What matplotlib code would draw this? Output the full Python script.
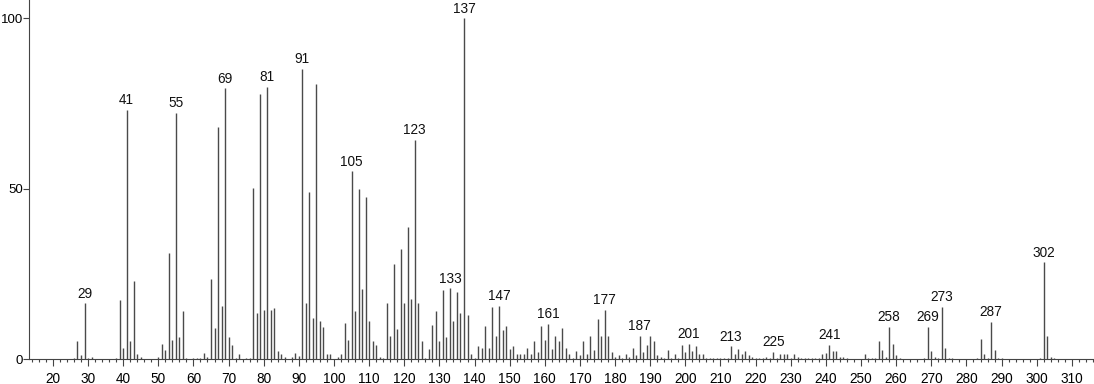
import matplotlib
matplotlib.use("Agg")
import matplotlib.pyplot as plt
import numpy as np
from matplotlib.ticker import MultipleLocator

plt.rcParams['font.family'] = ['Liberation Sans', 'DejaVu Sans']

# m/z 20..309, relative abundance (one row = 10 masses)
mz = np.arange(20, 310)
abund = [
    0, 0, 0, 0, 0, 0, 0.4, 5.4, 1.2, 16.4,            # 20
    0.3, 0.7, 0, 0, 0, 0, 0, 0, 0.5, 17.4,            # 30
    3.2, 73.1, 5.4, 23.0, 1.5, 0.7, 0, 0, 0, 0,       # 40
    0.6, 4.5, 2.7, 31.1, 5.6, 72.3, 6.6, 14.3, 0.3, 0,  # 50
    0.4, 0.5, 0.5, 1.8, 0.6, 23.5, 9.2, 68.1, 15.6, 79.5,  # 60
    6.4, 4.3, 0.5, 1.5, 0, 0.3, 0.5, 50.2, 13.5, 77.7,  # 70
    14.5, 80.0, 14.5, 15.0, 2.4, 1.5, 0.6, 0, 0.8, 1.8,  # 80
    1.0, 85.3, 16.6, 49.0, 12.0, 80.8, 11.2, 9.4, 1.5, 1.7,  # 90
    0.2, 0.6, 1.5, 10.7, 5.6, 55.1, 14.1, 50.0, 20.7, 47.5,  # 100
    11.2, 5.4, 4.2, 0.8, 0.3, 16.6, 6.8, 28.1, 9.0, 32.3,  # 110
    16.6, 38.7, 17.7, 64.3, 16.6, 5.3, 0.5, 3.0, 10.0, 14.1,  # 120
    5.4, 20.3, 6.6, 20.8, 11.1, 19.7, 13.5, 100, 13.0, 1.5,  # 130
    0.3, 4.0, 3.3, 9.8, 3.2, 15.3, 6.8, 15.6, 8.6, 9.7,  # 140
    2.9, 4.0, 1.5, 1.7, 1.5, 3.2, 1.5, 5.3, 2.2, 9.7,  # 150
    5.6, 10.4, 3.1, 6.8, 5.5, 9.1, 3.4, 1.5, 0.5, 2.5,  # 160
    1.3, 5.3, 1.5, 6.8, 2.7, 11.9, 6.8, 14.4, 6.8, 2.1,  # 170
    0.7, 1.3, 0.4, 1.6, 0.6, 3.4, 1.3, 6.8, 2.1, 4.1,  # 180
    6.8, 5.3, 1.3, 0.7, 0.4, 2.7, 0.3, 1.6, 0.3, 4.2,  # 190
    2.1, 4.5, 2.5, 3.9, 1.6, 1.6, 0.3, 0.3, 0.3, 0.3,  # 200
    0.3, 0.3, 0.3, 3.8, 1.6, 3.1, 1.6, 2.5, 1.3, 0.7,  # 210
    0.3, 0.3, 0.3, 0.7, 0.3, 2.1, 0.3, 1.7, 1.7, 1.7,  # 220
    0.5, 1.7, 0.7, 0.5, 0.3, 0.3, 0.3, 0.3, 0.5, 1.5,  # 230
    1.8, 4.2, 2.5, 2.5, 0.8, 0.8, 0.3, 0, 0, 0,       # 240
    0, 1.5, 0.5, 0.5, 0.3, 5.3, 2.7, 0.8, 9.4, 4.5,   # 250
    1.3, 0.3, 0, 0, 0, 0, 0, 0, 0.3, 9.5,             # 260
    2.3, 0.8, 0.5, 15.4, 3.2, 0.5, 0.3, 0, 0, 0,      # 270
    0, 0, 0, 0.3, 5.9, 1.5, 0.5, 11.0, 2.7, 0.5,      # 280
    0.3, 0, 0, 0, 0, 0, 0, 0, 0, 0,                   # 290
    0, 0.3, 28.4, 6.8, 0.8, 0.5, 0, 0, 0, 0,          # 300
]
abund = np.array(abund)

labelled = [29, 41, 55, 69, 81, 91, 105, 123, 133, 137, 147, 161, 177,
            187, 201, 213, 225, 241, 258, 269, 273, 287, 302]

fig = plt.figure(figsize=(10.94, 3.84), dpi=100)
ax = fig.add_axes([29 / 1094, 24.7 / 384, 1 - 29 / 1094, 1 - 24.7 / 384])

keep = abund > 0
ax.vlines(mz[keep], 0, abund[keep], color='#4a4a4a', lw=1.0)

for m in labelled:
    h = abund[mz == m][0]
    ax.annotate(str(m), (m, h), xytext=(0, 2), textcoords='offset points',
                ha='center', va='bottom', fontsize=9.8, color='#111111')

ax.set_xlim(13.2, 316.3)
ax.set_ylim(0, 105.4)
ax.xaxis.set_minor_locator(MultipleLocator(2))
ax.set_xticks(np.arange(20, 311, 10))
ax.set_yticks([0, 50, 100])
ax.tick_params(axis='x', which='major', direction='out', length=5, width=0.8,
               color='#444444', labelsize=9.8, pad=4)
ax.tick_params(axis='x', which='minor', direction='out', length=2.5, width=0.8,
               color='#444444')
ax.tick_params(axis='y', direction='out', length=4, width=0.8,
               color='#444444', labelsize=9.5, pad=0.5)

for s in ['top', 'right']:
    ax.spines[s].set_visible(False)
for s in ['left', 'bottom']:
    ax.spines[s].set_color('#444444')
    ax.spines[s].set_linewidth(0.8)

fig.savefig('out.png', dpi=100)
